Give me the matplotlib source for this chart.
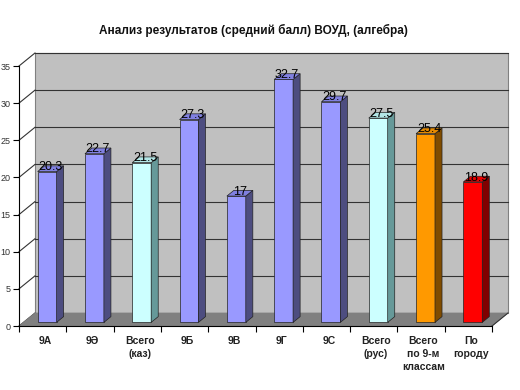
import matplotlib.pyplot as plt
import numpy as np
from matplotlib.patches import Polygon

plt.rcParams['font.family'] = ['Liberation Sans', 'DejaVu Sans']

TITLE = "Анализ результатов (средний балл) ВОУД, (алгебра)"
labels = ["9А", "9Ә", "Всего\n(каз)", "9Б", "9В", "9Г", "9С",
          "Всего\n(рус)", "Всего\nпо 9-м\nклассам", "По\nгороду"]
values = [20.3, 22.7, 21.5, 27.3, 17, 32.7, 29.7, 27.5, 25.4, 18.9]
kinds = ["cls", "cls", "tot", "cls", "cls", "cls", "cls", "tot", "all", "city"]

front = {"cls": "#9999ff", "tot": "#ccffff", "all": "#ff9900", "city": "#ff0000"}
side = {"cls": "#4d4d80", "tot": "#669999", "all": "#804c00", "city": "#800000"}
top = {"cls": "#8080e0", "tot": "#b3e6e6", "all": "#e68a00", "city": "#e60000"}

YMAX = 35
n = len(values)
# 3d depth in data units (x: categories, y: value)
DX, DY = 0.338, 1.75
FX, FY = 0.28 * DX, 0.28 * DY   # bar front offset
GX, GY = 0.44 * DX, 0.44 * DY   # bar depth
W = 0.4

fig = plt.figure(figsize=(5.2, 3.9), dpi=100)
ax = fig.add_axes([19 / 520, 64 / 390, 473 / 520, 260 / 390])
ax.set_xlim(0, n)
ax.set_ylim(0, YMAX)
ax.patch.set_alpha(0)


def poly(pts, fc, ec="none", lw=0.0, z=1):
    ax.add_patch(Polygon(pts, closed=True, facecolor=fc, edgecolor=ec,
                         linewidth=lw, zorder=z, clip_on=False))


# back wall and floor
poly([(DX, DY), (n + DX, DY), (n + DX, YMAX + DY), (DX, YMAX + DY)],
     "#c0c0c0", "#808080", 0.8, 0)
poly([(0, 0), (n, 0), (n + DX, DY), (DX, DY)], "#808080", "#808080", 0.5, 1)

for v in np.arange(5, YMAX + 1, 5):
    ax.plot([DX, n + DX], [v + DY, v + DY], color="#333333", lw=0.8,
            zorder=0.5, clip_on=False)
for v in np.arange(0, YMAX + 1, 5):
    ax.plot([0, DX], [v, v + DY], color="#333333", lw=0.8,
            zorder=0.5, clip_on=False)
ax.plot([n, n + DX], [0, DY], color="#333333", lw=0.8, zorder=3, clip_on=False)

# bars
for i, (v, k) in enumerate(zip(values, kinds)):
    x0 = i + 0.3 + FX
    y0 = FY
    poly([(x0, y0), (x0 + W, y0), (x0 + W, v + y0), (x0, v + y0)],
         front[k], "#222222", 0.5, 2)
    poly([(x0 + W, y0), (x0 + W + GX, y0 + GY), (x0 + W + GX, v + y0 + GY),
          (x0 + W, v + y0)], side[k], "#222222", 0.5, 2)
    poly([(x0, v + y0), (x0 + W, v + y0), (x0 + W + GX, v + y0 + GY),
          (x0 + GX, v + y0 + GY)], top[k], "#222222", 0.5, 2)
    ax.text(x0 + (W + GX) / 2, v + y0 + GY / 2 + 0.2, f"{v:g}",
            ha="center", va="center", fontsize=9, color="black", zorder=4)

# axes
for s in ["top", "right"]:
    ax.spines[s].set_visible(False)
ax.spines["left"].set_zorder(3)
ax.spines["bottom"].set_zorder(3)
ax.set_yticks(np.arange(0, YMAX + 1, 5))
ax.tick_params(axis="y", direction="out", length=4, labelsize=6.5,
               labelcolor="#333333", pad=2)
ax.set_xticks(np.arange(n + 1))
ax.set_xticklabels([])
ax.tick_params(axis="x", which="major", direction="out", length=4)
ax.set_xticks(np.arange(n) + 0.55, minor=True)
ax.set_xticklabels(labels, minor=True, fontsize=7.5, fontweight="bold",
                   color="#222222", linespacing=1.4, va="top")
ax.tick_params(axis="x", which="minor", length=0, pad=7)

fig.text(253 / 520, 1 - 30 / 390, TITLE, ha="center", va="center",
         fontsize=8.5, fontweight="bold", color="#111111")

fig.savefig("out.png", dpi=100)
